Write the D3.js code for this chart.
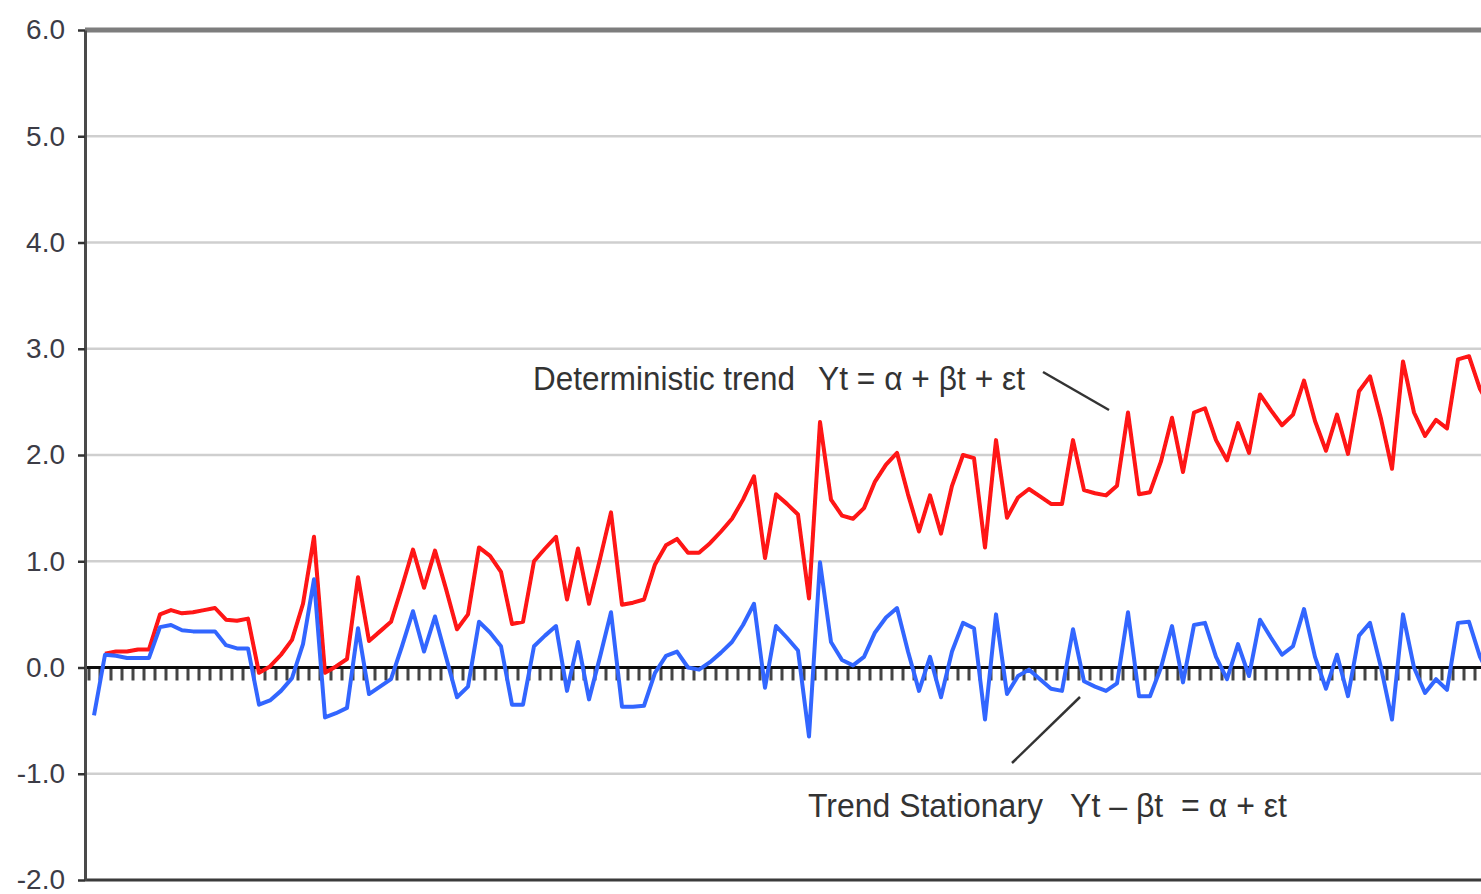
<!DOCTYPE html>
<html>
<head>
<meta charset="utf-8">
<script src="https://cdn.jsdelivr.net/npm/d3@7"></script>
<style>
body { margin: 0; background: #fff; }
svg { display: block; }
text { font-family: "Liberation Sans", Arial, sans-serif; }
</style>
</head>
<body>
<svg id="chart" width="1481" height="894"></svg>
<script>
// trend stationary series  Yt - bt  (blue)
var stationary = [
    -0.45, 0.12, 0.11, 0.09, 0.09, 0.09, 0.38, 0.40, 0.35, 0.34,
    0.34, 0.34, 0.21, 0.18, 0.18, -0.35, -0.31, -0.22, -0.10, 0.22,
    0.83, -0.47, -0.43, -0.38, 0.37, -0.25, -0.18, -0.11, 0.20, 0.53,
    0.15, 0.48, 0.10, -0.28, -0.18, 0.43, 0.33, 0.20, -0.35, -0.35,
    0.20, 0.30, 0.39, -0.22, 0.24, -0.30, 0.10, 0.52, -0.37, -0.37,
    -0.36, -0.05, 0.11, 0.15, 0.00, -0.02, 0.05, 0.14, 0.24, 0.40,
    0.60, -0.19, 0.39, 0.28, 0.16, -0.65, 0.99, 0.24, 0.07, 0.02,
    0.10, 0.33, 0.47, 0.56, 0.15, -0.22, 0.10, -0.28, 0.15, 0.42,
    0.37, -0.49, 0.50, -0.25, -0.08, -0.02, -0.11, -0.20, -0.22, 0.36,
    -0.13, -0.18, -0.22, -0.15, 0.52, -0.27, -0.27, 0.00, 0.39, -0.14,
    0.40, 0.42, 0.10, -0.11, 0.22, -0.08, 0.45, 0.28, 0.12, 0.20,
    0.55, 0.10, -0.20, 0.12, -0.27, 0.30, 0.42, 0.00, -0.49, 0.50,
    0.00, -0.24, -0.11, -0.21, 0.42, 0.43, 0.10, -0.10
];

// deterministic trend series  Yt (red), nothing in the first period
var deterministic = [
    null, 0.13, 0.15, 0.15, 0.17, 0.17, 0.50, 0.54, 0.51, 0.52,
    0.54, 0.56, 0.45, 0.44, 0.46, -0.05, 0.01, 0.12, 0.26, 0.60,
    1.23, -0.05, 0.01, 0.08, 0.85, 0.25, 0.34, 0.43, 0.76, 1.11,
    0.75, 1.10, 0.74, 0.36, 0.50, 1.13, 1.05, 0.90, 0.41, 0.43,
    1.00, 1.12, 1.23, 0.64, 1.12, 0.60, 1.02, 1.46, 0.59, 0.61,
    0.64, 0.97, 1.15, 1.21, 1.08, 1.08, 1.17, 1.28, 1.40, 1.58,
    1.80, 1.03, 1.63, 1.54, 1.44, 0.65, 2.31, 1.58, 1.43, 1.40,
    1.50, 1.75, 1.91, 2.02, 1.63, 1.28, 1.62, 1.26, 1.71, 2.00,
    1.97, 1.13, 2.14, 1.41, 1.60, 1.68, 1.61, 1.54, 1.54, 2.14,
    1.67, 1.64, 1.62, 1.71, 2.40, 1.63, 1.65, 1.94, 2.35, 1.84,
    2.40, 2.44, 2.14, 1.95, 2.30, 2.02, 2.57, 2.42, 2.28, 2.38,
    2.70, 2.32, 2.04, 2.38, 2.01, 2.60, 2.74, 2.34, 1.87, 2.88,
    2.40, 2.18, 2.33, 2.25, 2.90, 2.93, 2.62, 2.44
];

// periods t on the category axis
var periods = d3.range(1, stationary.length + 1);

var yTicks = [-2, -1, 0, 1, 2, 3, 4, 5, 6];
var gridTicks = [-1, 1, 2, 3, 4, 5];

var topLabel = "Deterministic trend", topFormula = "Yt = \u03b1 + \u03b2t + \u03b5t";
var bottomLabel = "Trend Stationary", bottomFormula = "Yt \u2013 \u03b2t  = \u03b1 + \u03b5t";

svg = d3.select('#chart');

left = 85;
right = 1481;

// soft edges like the scaled-up original
svg.append('defs')
    .append('filter')
    .attr('id', 'soft')
    .append('feGaussianBlur')
    .attr('stdDeviation', 0.6);

// one category = 11px, the chart runs on past the right edge
xscale = d3.scaleLinear()
    .domain([0, periods.length])
    .range([88.5, 88.5 + 11 * periods.length]);
yscale = d3.scaleLinear()
    .domain([-2, 6])
    .range([880, 30]);

plot = svg.append('g').attr('filter', 'url(#soft)');

// gridlines
plot.append('g')
    .selectAll('line')
    .data(gridTicks)
    .enter()
    .append('line')
    .attr('x1', left)
    .attr('x2', right)
    .attr('y1', d => yscale(d))
    .attr('y2', d => yscale(d))
    .attr('stroke', '#cfcfcf')
    .attr('stroke-width', 2.5);

// top border
plot.append('line')
    .attr('x1', left).attr('x2', right)
    .attr('y1', yscale(6)).attr('y2', yscale(6))
    .attr('stroke', '#7d7d7d')
    .attr('stroke-width', 5);

// bottom border
plot.append('line')
    .attr('x1', left).attr('x2', right)
    .attr('y1', yscale(-2)).attr('y2', yscale(-2))
    .attr('stroke', '#3a3a3a')
    .attr('stroke-width', 3);

// x axis at zero, a tick between every period
xaxis = d3.axisBottom(xscale)
    .tickValues(d3.range(0, periods.length + 1))
    .tickSizeInner(13)
    .tickSizeOuter(0)
    .tickFormat('');

gx = plot.append('g')
    .attr('transform', 'translate(0,' + yscale(0) + ')')
    .call(xaxis);
gx.select('.domain').remove();
gx.selectAll('.tick line').attr('stroke', '#444').attr('stroke-width', 3);

plot.append('line')
    .attr('x1', left).attr('x2', right)
    .attr('y1', yscale(0)).attr('y2', yscale(0))
    .attr('stroke', '#111')
    .attr('stroke-width', 3);

// series
line = d3.line()
    .defined(d => d != null)
    .x((d, i) => xscale(i + 0.5))
    .y(d => yscale(d));

plot.append('path')
    .datum(deterministic)
    .attr('d', line)
    .attr('fill', 'none')
    .attr('stroke', '#ff1212')
    .attr('stroke-width', 4)
    .attr('stroke-linejoin', 'round');

plot.append('path')
    .datum(stationary)
    .attr('d', line)
    .attr('fill', 'none')
    .attr('stroke', '#3366ff')
    .attr('stroke-width', 4)
    .attr('stroke-linejoin', 'round');

// y axis
yaxis = d3.axisLeft(yscale)
    .tickValues(yTicks)
    .tickSizeInner(7)
    .tickSizeOuter(0)
    .tickPadding(13)
    .tickFormat(d => d.toFixed(1));

gy = svg.append('g')
    .attr('transform', 'translate(' + left + ',0)')
    .call(yaxis);
gy.select('.domain').attr('stroke', '#4a4a4a').attr('stroke-width', 3);
gy.selectAll('.tick line').attr('stroke', '#333').attr('stroke-width', 2.5);
gy.selectAll('.tick text')
    .attr('fill', '#3c3c46')
    .style('font-size', '28px');

// annotations
function Note(txt, x, y, w) {
    svg.append('text')
        .text(txt)
        .attr('x', x)
        .attr('y', y)
        .attr('textLength', w)
        .attr('lengthAdjust', 'spacingAndGlyphs')
        .attr('fill', '#333')
        .style('white-space', 'pre')
        .style('font-size', '33px');
}

Note(topLabel, 533, 390, 262);
Note(topFormula, 818, 390, 207);
Note(bottomLabel, 808, 817, 235);
Note(bottomFormula, 1070, 817, 217);

// leader lines
svg.append('line')
    .attr('x1', 1043).attr('y1', 372)
    .attr('x2', 1109).attr('y2', 410)
    .attr('stroke', '#333').attr('stroke-width', 2.5);
svg.append('line')
    .attr('x1', 1012).attr('y1', 763)
    .attr('x2', 1080).attr('y2', 697)
    .attr('stroke', '#333').attr('stroke-width', 2.5);
</script>
</body>
</html>
